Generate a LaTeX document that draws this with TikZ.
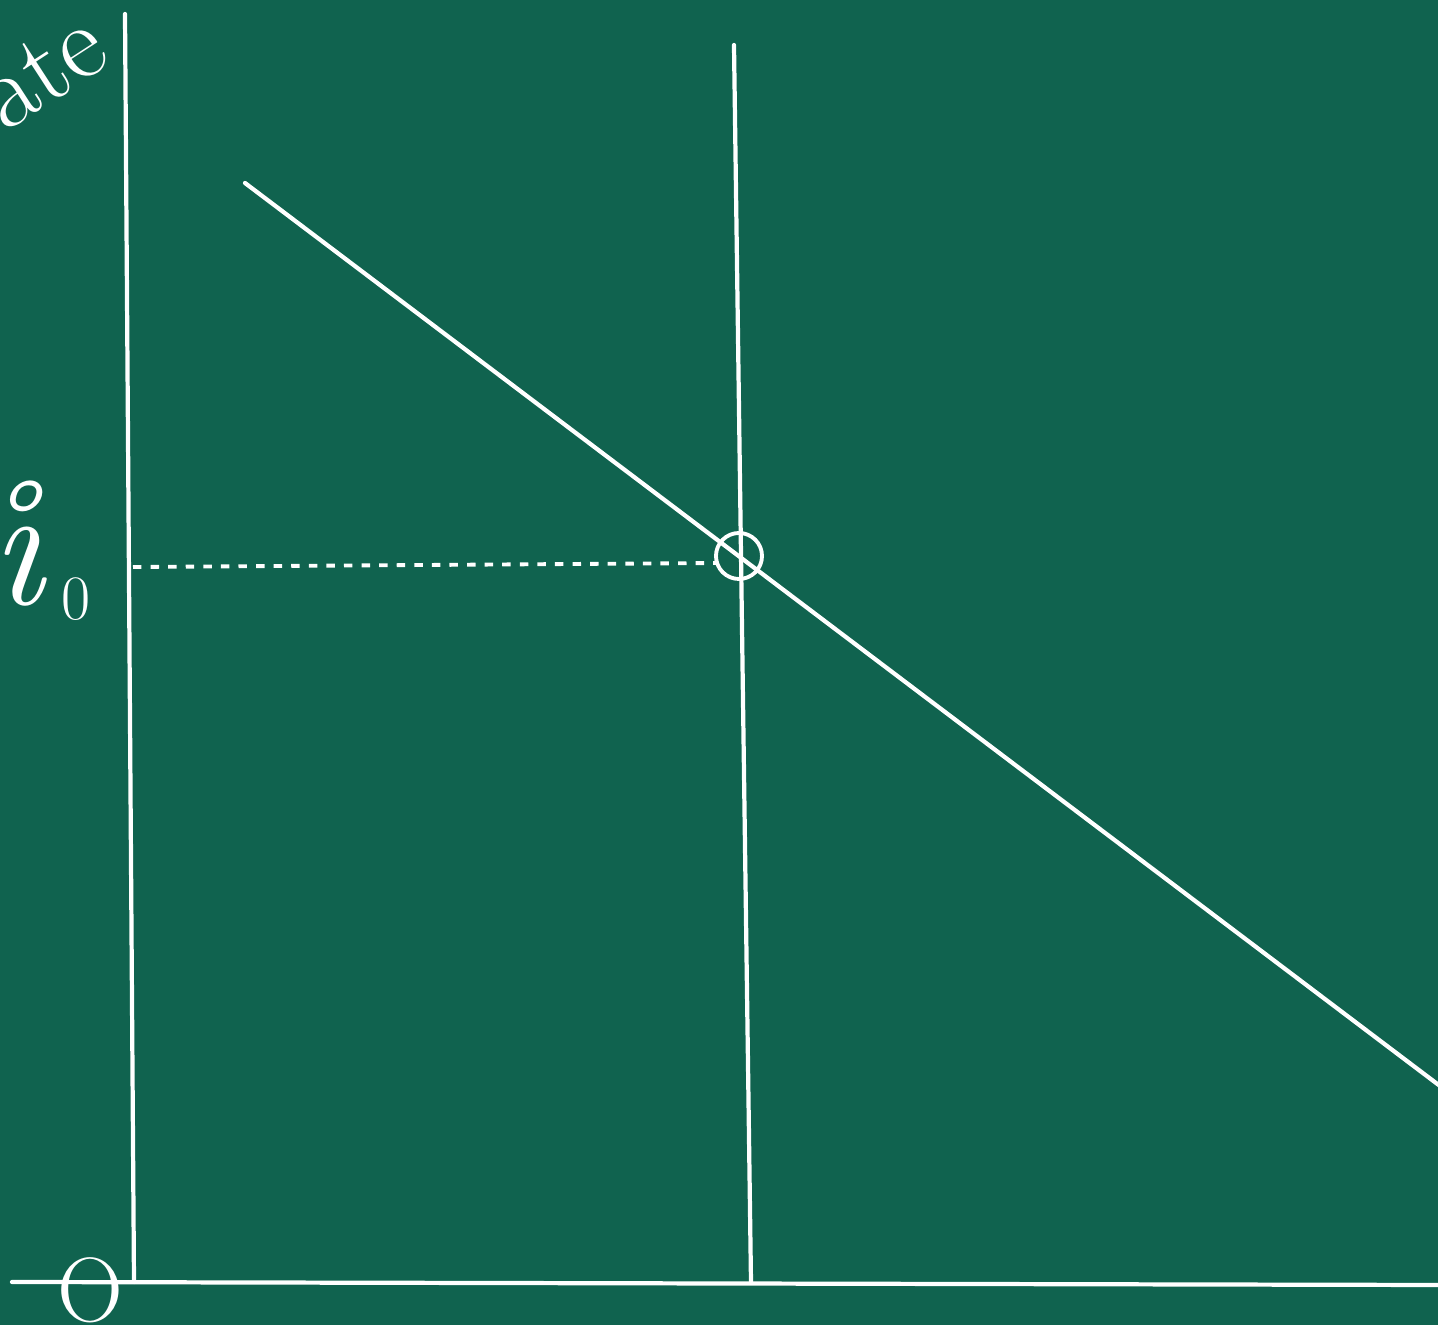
\documentclass[tikz,border=0pt]{standalone}
\definecolor{board}{HTML}{10634F}
\tikzset{
  chalk/.style={draw=white, line width=1.2pt, line cap=round},
  dashline/.style={draw=white, line width=1.1pt, dash pattern=on 2.4pt off 2.6pt},
  lbl/.style={text=white, inner sep=0pt}
}
\begin{document}
\begin{tikzpicture}[x=0.01cm, y=-0.01cm]
\useasboundingbox (0,0) rectangle (1438,1325);
\fill[board] (0,0) rectangle (1438,1325);
\clip (0,0) rectangle (1438,1325);
% coordinates
\coordinate (ytop) at (125,14);
\coordinate (orig) at (134,1282);
\coordinate (xl) at (12,1282);
\coordinate (xr) at (1440,1285);
\coordinate (vtop) at (734,45);
\coordinate (vbot) at (751,1282);
\coordinate (dtop) at (245,183);
\coordinate (dbot) at (1440,1086);
\coordinate (dashl) at (133,567);
\coordinate (dashr) at (718,563);
\node[draw=white, line width=1.1pt, circle, inner sep=0pt, minimum size=0.46cm] (eq) at (739,556) {};
% axes and lines
\draw[chalk] (ytop) -- (orig);
\draw[chalk] (xl) -- (xr);
\draw[chalk] (vtop) -- (vbot);
\draw[chalk] (dtop) -- (dbot);
\draw[dashline] (dashl) -- (dashr);
% labels
\node[lbl, font=\fontsize{50}{60}\selectfont, anchor=base west] (i0) at (-10,605) {\textit{\r{\i}}\hspace{0.1em}\raisebox{-0.08em}{\fontsize{18}{18}\selectfont 0}};
\node[lbl, font=\fontsize{26}{30}\selectfont] (O) at (90,1290) {O};
\node[lbl, font=\fontsize{30}{36}\selectfont, rotate=33, anchor=base east] (rate) at (114,62) {rate};
\end{tikzpicture}
\end{document}
